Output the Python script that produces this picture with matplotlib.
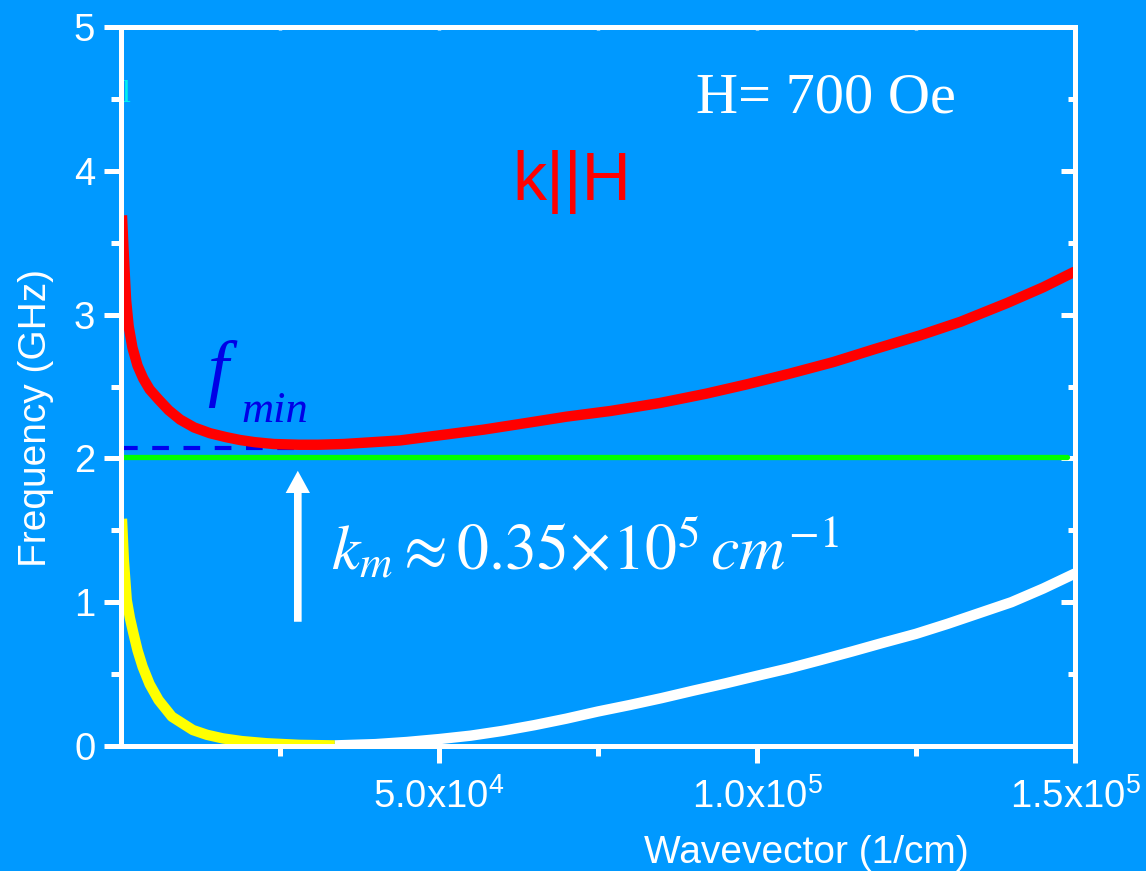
import matplotlib
matplotlib.use("Agg")
import matplotlib.pyplot as plt
from matplotlib.ticker import FixedLocator, FixedFormatter, NullFormatter

# ---- dispersion data (wavevector in 1/cm, frequency in GHz) ----
k_upper = [0.15e3, 0.5e3, 0.8e3, 1.2e3, 1.8e3, 2.6e3, 3.5e3, 4.5e3, 5.9e3, 7.5e3,
           9.3e3, 11.5e3, 14e3, 16.5e3, 18.7e3, 21e3, 24e3, 28e3, 31e3, 35e3,
           38.6e3, 43.9e3, 50e3, 57e3, 64.3e3, 70e3, 77e3, 84.7e3, 92e3, 98.4e3,
           105.2e3, 112e3, 118.5e3, 125.6e3, 132e3, 139.3e3, 145e3, 150e3]
f_upper = [3.69, 3.36, 3.10, 2.92, 2.77, 2.645, 2.555, 2.48, 2.41, 2.335,
           2.27, 2.215, 2.175, 2.148, 2.128, 2.113, 2.10, 2.095, 2.095, 2.10,
           2.11, 2.125, 2.16, 2.20, 2.25, 2.29, 2.33, 2.385, 2.45, 2.515,
           2.59, 2.67, 2.76, 2.855, 2.95, 3.08, 3.19, 3.30]

k_lower_a = [0.15e3, 0.45e3, 0.9e3, 1.4e3, 1.95e3, 2.6e3, 3.4e3, 4.5e3, 5.9e3,
             8.0e3, 11.3e3, 13.5e3, 16e3, 19e3, 22.9e3, 28e3, 33.6e3]
f_lower_a = [1.58, 1.29, 1.015, 0.89, 0.784, 0.665, 0.551, 0.43, 0.32,
             0.204, 0.111, 0.078, 0.053, 0.034, 0.019, 0.008, 0.004]

k_lower_b = [33.6e3, 40e3, 45e3, 50e3, 55e3, 60e3, 65e3, 70e3, 75e3, 80e3,
             85e3, 90e3, 95e3, 100e3, 105e3, 110e3, 115e3, 120e3, 125e3,
             130e3, 135e3, 140e3, 145e3, 150e3]
f_lower_b = [0.004, 0.013, 0.028, 0.048, 0.072, 0.105, 0.145, 0.19, 0.24, 0.285,
             0.333, 0.385, 0.435, 0.488, 0.54, 0.598, 0.658, 0.72, 0.78,
             0.85, 0.925, 1.00, 1.095, 1.20]

k_flat = [0.0, 148.8e3]
f_flat = [2.01, 2.01]

k_fmin = [0.0, 28e3]
f_fmin = [2.075, 2.075]

k_arrow = 27.8e3
f_arrow_from, f_arrow_to = 0.864, 1.914

x_ticks = [5e4, 1e5, 1.5e5]
x_tick_labels = ["5.0x10$^{4}$", "1.0x10$^{5}$", "1.5x10$^{5}$"]
x_minor = [2.5e4, 7.5e4, 1.25e5]
top_ticks = [2.5e4, 5e4, 7.5e4, 1e5, 1.25e5]
y_ticks = [0, 1, 2, 3, 4, 5]
y_minor = [0.5, 1.5, 2.5, 3.5, 4.5]

BG = "#0099ff"
plt.rcParams["font.family"] = ["Liberation Sans", "DejaVu Sans"]
plt.rcParams["mathtext.fontset"] = "custom"
plt.rcParams["mathtext.rm"] = "Liberation Sans"
plt.rcParams["mathtext.it"] = "Liberation Sans:italic"
plt.rcParams["mathtext.bf"] = "Liberation Sans:bold"

W, H = 1146, 871
fig = plt.figure(figsize=(W / 100, H / 100), dpi=100, facecolor=BG)
ax = fig.add_axes([121 / W, 1 - 746 / H, (1075 - 121) / W, (746 - 27) / H])
ax.set_facecolor(BG)

ax.plot(k_flat, f_flat, color="#00ff00", lw=3.8, solid_capstyle="round", zorder=2)
ax.plot(k_fmin, f_fmin, color="#0000ee", lw=3.0, dashes=(4, 3.5),
        dash_capstyle="butt", zorder=3)
curve_style = dict(lw=7.5, solid_capstyle="butt", solid_joinstyle="round", zorder=4)
ax.plot(k_upper, f_upper, color="#ff0000", **curve_style)
ax.plot(k_lower_b, f_lower_b, color="white", **curve_style)
ax.plot(k_lower_a, f_lower_a, color="#ffff00", **curve_style)

ax.annotate("", xy=(k_arrow, f_arrow_to), xytext=(k_arrow, f_arrow_from),
            arrowprops=dict(arrowstyle="simple,head_length=1.6,head_width=1.75,tail_width=0.55",
                            mutation_scale=10, facecolor="white", edgecolor="none",
                            shrinkA=0, shrinkB=0))

ax.set_xlim(0, 1.5e5)
ax.set_ylim(0, 5)

# spines
for s in ax.spines.values():
    s.set_color("white")
    s.set_linewidth(3.6)
    s.set_zorder(5)

# bottom / left ticks (outward)
ax.xaxis.set_major_locator(FixedLocator(x_ticks))
ax.xaxis.set_major_formatter(FixedFormatter(x_tick_labels))
ax.xaxis.set_minor_locator(FixedLocator(x_minor))
ax.yaxis.set_major_locator(FixedLocator(y_ticks))
ax.yaxis.set_minor_locator(FixedLocator(y_minor))
ax.yaxis.set_minor_formatter(NullFormatter())
ax.tick_params(which="both", direction="out", colors="white", width=3.6,
               labelsize=27.5, top=False, right=False)
ax.tick_params(axis="x", which="major", length=12, pad=11)
ax.tick_params(axis="x", which="minor", length=7)
ax.tick_params(axis="y", which="major", length=12.5, pad=6)
ax.tick_params(axis="y", which="minor", length=7)

# top / right ticks (inward)
top = ax.secondary_xaxis("top")
top.xaxis.set_major_locator(FixedLocator(top_ticks))
top.xaxis.set_major_formatter(NullFormatter())
top.tick_params(direction="in", length=2.5, width=2.5, colors="white")
top.spines["top"].set_color("white")
top.spines["top"].set_linewidth(3.6)

right = ax.secondary_yaxis("right")
right.yaxis.set_major_locator(FixedLocator(y_ticks))
right.yaxis.set_minor_locator(FixedLocator(y_minor))
right.yaxis.set_major_formatter(NullFormatter())
right.tick_params(which="major", direction="in", length=10, width=3.6, colors="white")
right.tick_params(which="minor", direction="in", length=5, width=3.6, colors="white")
right.spines["right"].set_color("white")
right.spines["right"].set_linewidth(3.6)

ax.set_xlabel("Wavevector (1/cm)", fontsize=28, color="white", va="center", ha="center")
ax.xaxis.set_label_coords((806 - 121) / 954, (746 - 853) / 719)
ax.set_ylabel("Frequency (GHz)", fontsize=28, color="white", va="center", ha="center")
ax.yaxis.set_label_coords((36 - 121) / 954, (746 - 418) / 719)

# annotations
ax.text(90.4e3, 4.404, "H= 700 Oe", fontsize=42, color="white",
        family="Liberation Serif", ha="left", va="baseline")
ax.text(61.6e3, 3.80, "k||H", fontsize=49, color="#ff0000",
        ha="left", va="baseline")
ax.text(13.6e3, 2.46, "f", fontsize=54, color="#0000e6",
        family="Liberation Serif", style="italic", ha="left", va="baseline")
ax.text(19.0e3, 2.255, "min", fontsize=32, color="#0000e6",
        family="Liberation Serif", style="italic", ha="left", va="baseline")
ax.text(33.0e3, 1.22, r"$k_m \approx 0.35\!\times\!10^5\,cm^{-1}$", fontsize=46,
        color="white", math_fontfamily="stix", ha="left", va="baseline")
ax.text(0.75e3, 4.48, "l", fontsize=23, color="#00f0f0",
        family="Liberation Serif", ha="center", va="baseline")

fig.savefig("out.png", dpi=100, facecolor=BG)
